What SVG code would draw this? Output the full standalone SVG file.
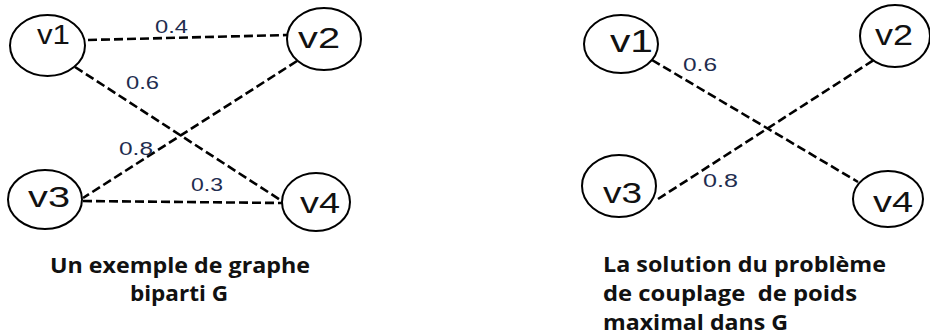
<svg xmlns="http://www.w3.org/2000/svg" width="930" height="336" viewBox="0 0 930 336">
<style>
.node{fill:#fff;stroke:#000;stroke-width:2}
.nl{font-family:"Liberation Sans",Arial,sans-serif;font-size:30px;fill:#111}
.edge{stroke:#000;stroke-width:2.6;stroke-dasharray:9 4;fill:none}
.wl{font-family:"Liberation Sans",Arial,sans-serif;font-size:19px;fill:#1f2d4f}
.cap{font-family:"Open Sans","Liberation Sans",Arial,sans-serif;font-size:21px;font-weight:bold;fill:#111}
</style>
<rect width="930" height="336" fill="#fff"/>
<g id="connectors">
<line class="edge" x1="88" y1="40" x2="287" y2="35"/>
<line class="edge" x1="75" y1="67" x2="285" y2="203"/>
<line class="edge" x1="297" y1="61" x2="83" y2="198"/>
<line class="edge" x1="83" y1="201" x2="282" y2="203"/>
<line class="edge" x1="652" y1="60" x2="858" y2="182"/>
<line class="edge" x1="658" y1="199" x2="880" y2="56"/>
<text class="wl" x="155" y="33" textLength="33" lengthAdjust="spacingAndGlyphs">0.4</text>
<text class="wl" x="126" y="89" textLength="33" lengthAdjust="spacingAndGlyphs">0.6</text>
<text class="wl" x="119" y="155" textLength="34" lengthAdjust="spacingAndGlyphs">0.8</text>
<text class="wl" x="191" y="191" textLength="32" lengthAdjust="spacingAndGlyphs">0.3</text>
<text class="wl" x="683" y="71" textLength="34" lengthAdjust="spacingAndGlyphs">0.6</text>
<text class="wl" x="703" y="187" textLength="35" lengthAdjust="spacingAndGlyphs">0.8</text>
</g>
<g id="g1-v1"><ellipse class="node" cx="47.5" cy="45.5" rx="37.5" ry="30.5"/><text class="nl" x="37" y="44" style="font-size:28px" textLength="33" lengthAdjust="spacingAndGlyphs">v1</text></g>
<g id="g1-v2"><ellipse class="node" cx="324" cy="39" rx="37" ry="31"/><text class="nl" x="298" y="48" textLength="42" lengthAdjust="spacingAndGlyphs">v2</text></g>
<g id="g1-v3"><ellipse class="node" cx="45" cy="199.5" rx="37" ry="29.5"/><text class="nl" x="28" y="207" textLength="42" lengthAdjust="spacingAndGlyphs">v3</text></g>
<g id="g1-v4"><ellipse class="node" cx="316" cy="202" rx="34" ry="29"/><text class="nl" x="300" y="213" textLength="40" lengthAdjust="spacingAndGlyphs">v4</text></g>
<g id="g2-v1"><ellipse class="node" cx="621" cy="44" rx="37" ry="29"/><text class="nl" x="610" y="52" style="font-size:32px" textLength="43" lengthAdjust="spacingAndGlyphs">v1</text></g>
<g id="g2-v2"><ellipse class="node" cx="895" cy="36" rx="35" ry="31"/><text class="nl" x="875" y="45" textLength="38" lengthAdjust="spacingAndGlyphs">v2</text></g>
<g id="g2-v3"><ellipse class="node" cx="619" cy="186" rx="37" ry="31"/><text class="nl" x="603" y="203" textLength="39" lengthAdjust="spacingAndGlyphs">v3</text></g>
<g id="g2-v4"><ellipse class="node" cx="888" cy="199" rx="35" ry="28"/><text class="nl" x="873" y="212" textLength="40" lengthAdjust="spacingAndGlyphs">v4</text></g>
<g id="caption-left">
<text class="cap" x="50" y="273" textLength="260" lengthAdjust="spacingAndGlyphs">Un exemple de graphe</text>
<text class="cap" x="130" y="301" textLength="98" lengthAdjust="spacingAndGlyphs">biparti G</text>
</g>
<g id="caption-right">
<text class="cap" x="603" y="272" textLength="283" lengthAdjust="spacingAndGlyphs">La solution du problème</text>
<text class="cap" x="603" y="301" textLength="254" lengthAdjust="spacingAndGlyphs" xml:space="preserve">de couplage  de poids</text>
<text class="cap" x="603" y="330" textLength="185" lengthAdjust="spacingAndGlyphs">maximal dans G</text>
</g>
</svg>
